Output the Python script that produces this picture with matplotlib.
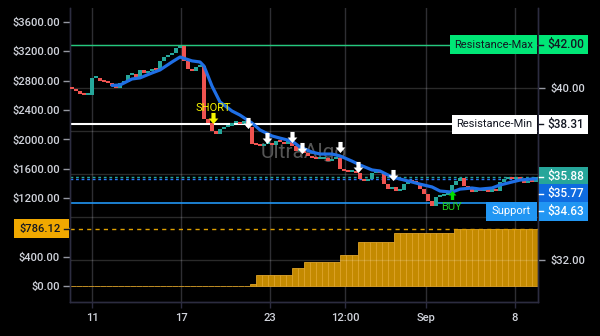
import numpy as np
import matplotlib
matplotlib.use("Agg")
import matplotlib.pyplot as plt
from matplotlib.patches import Rectangle
from matplotlib.lines import Line2D
from matplotlib.path import Path
from matplotlib.transforms import IdentityTransform

plt.rcParams['font.family'] = ['Roboto', 'DejaVu Sans']

# ---------------- data ----------------
closes = [40.00, 39.91, 39.77, 39.72, 39.72, 40.51, 40.51, 40.37, 40.33, 40.28,
          40.14, 40.05, 40.28, 40.33, 40.65, 40.70, 40.56, 40.88, 40.74, 40.84,
          40.93, 40.88, 41.30, 41.49, 41.58, 41.67, 41.91, 42.00, 41.30, 40.93,
          40.84, 41.02, 41.07, 38.60, 38.42, 38.05, 37.91, 38.14, 38.23, 38.28,
          38.42, 38.47, 38.37, 38.51, 38.23, 37.44, 37.40, 37.35, 37.44, 37.49,
          37.40, 37.58, 37.53, 37.44, 37.58, 37.35, 37.12, 37.21, 37.02, 36.88,
          36.79, 36.74, 36.74, 36.79, 36.65, 36.74, 36.79, 36.28, 36.19, 36.14,
          36.19, 36.09, 35.81, 35.72, 35.81, 36.09, 36.14, 36.09, 35.58, 35.35,
          35.44, 35.26, 35.30, 35.58, 35.72, 35.67, 35.63, 35.35, 35.12, 34.79,
          34.56, 34.98, 35.02, 35.07, 35.16, 35.53, 35.72, 35.86, 35.49, 35.35,
          35.21, 35.30, 35.26, 35.35, 35.21, 35.35, 35.26, 35.67, 35.81, 35.86,
          35.81, 35.91, 35.77, 35.63, 35.72, 35.67, 35.88]
first_open = 40.10

ma_idx = [10, 12, 15, 17, 20, 22, 25, 27, 30, 32, 33, 35, 37, 40, 42, 45, 47,
          50, 52, 55, 57, 60, 62, 65, 67, 70, 72, 75, 77, 80, 82, 85, 87, 90,
          92, 95, 97, 100, 102, 105, 107, 110, 112, 115, 116]
ma_vals = [40.12, 40.14, 40.42, 40.47, 40.70, 40.84, 41.21, 41.44, 41.26, 41.21,
           41.02, 40.09, 39.35, 38.93, 38.74, 38.37, 38.05, 37.77, 37.67, 37.53,
           37.26, 37.02, 36.93, 36.93, 36.84, 36.60, 36.42, 36.19, 36.14, 35.86,
           35.77, 35.63, 35.53, 35.40, 35.21, 35.16, 35.30, 35.35, 35.30, 35.35,
           35.49, 35.63, 35.72, 35.77, 35.77]

equity = [8] * 30 + [31] + [154] * 6 + [250] * 2 + [336] * 6 + [427] * 3 + \
         [605] * 6 + [727] * 10 + [786.12] * 14

sell_idx = [44, 48.75, 55, 57.5, 67, 71.5, 80.25]
sell_price = [38.37, 37.67, 37.72, 37.21, 37.26, 36.33, 35.95]
short_idx, short_price, short_text_price = 35.25, 38.60, 39.07
buy_idx, buy_price, buy_text_price = 95, 35.02, 34.47

xtick_pos = [5, 27.25, 49.5, 68.25, 88.5, 110.75]
xtick_labels = ['11', '17', '23', '12:00', 'Sep', '8']
left_ticks = [0, 400, 800, 1200, 1600, 2000, 2400, 2800, 3200, 3600]
right_ticks = [32, 34, 36, 38, 40, 42]
right_visible = [32, 40]   # the others sit under the price tags

res_max = 42.00
res_min = 38.31
last_price = 35.88
ma_last = 35.77
support = 34.63
equity_last = 786.12

# ---------------- style ----------------
BG = '#000000'
GRID = '#2e2e33'
SPINE = '#2c2c40'
TXT = '#d1d4dc'
UP = '#26a69a'
DN = '#ef5350'
BLUE = '#1f6fe5'

W, H = 600, 336
L, R, B, T = 69.5, 538, 302, 8  # pixel frame (top-origin y)

fig = plt.figure(figsize=(W / 100, H / 100), dpi=100, facecolor=BG)
ax = fig.add_axes([L / W, (H - B) / H, (R - L) / W, (B - T) / H])
ax.set_facecolor(BG)
ax2 = ax.twinx()
ax2.patch.set_visible(False)

xlim = (-0.625, 116.5)
ax.set_xlim(*xlim)
ax.set_ylim(-214, 3790)
ax2.set_ylim(30.05, 43.72)

# equity bars (left axis)
eq_x = np.arange(len(equity)) * 1.5 + 0.25
ax.bar(eq_x, equity, width=1.5, color='#c48a00', edgecolor='#dfa42a',
       linewidth=0.6, zorder=2)
ax.axhline(equity_last, color='#e0a000', lw=1, ls=(0, (3, 3)), zorder=3)

ax.set_xticks(xtick_pos)
ax.set_xticklabels(xtick_labels)
ax.set_yticks(left_ticks)
ax.set_yticklabels([f'${v:.2f}' for v in left_ticks])
ax.set_axisbelow(True)
ax.grid(axis='x', color=GRID, lw=1)
ax.tick_params(axis='x', colors=TXT, color=SPINE, length=4, width=1,
               labelsize=8, pad=4)
ax.tick_params(axis='y', colors=TXT, color='#9598a1', length=5, width=1,
               labelsize=8, pad=2)

# price (right axis)
ax2.set_yticks(right_ticks)
ax2.set_yticklabels([f'${v:.2f}' if v in right_visible else '' for v in right_ticks])
ax2.set_axisbelow(True)
ax2.grid(axis='y', color='white', alpha=0.17, lw=1)
ax2.tick_params(axis='y', colors=TXT, color='#9598a1', length=5, width=1,
                labelsize=8, pad=4)

for a in (ax, ax2):
    a.spines['top'].set_visible(False)
    for s in ('left', 'right', 'bottom'):
        a.spines[s].set_color(SPINE)
        a.spines[s].set_linewidth(1)
for lab in ax.get_yticklabels() + ax2.get_yticklabels() + ax.get_xticklabels():
    lab.set_fontweight('medium')

c = np.array(closes)
o = np.r_[first_open, c[:-1]]
idx = np.arange(len(c))
cols = np.where(c >= o, UP, DN)
ax2.bar(idx, np.maximum(np.abs(c - o), 0.09), bottom=np.minimum(o, c) - 0.03,
        width=0.8, color=cols, linewidth=0, zorder=3)

ax2.plot(ma_idx, ma_vals, color=BLUE, lw=2.3, zorder=4, solid_capstyle='round',
         solid_joinstyle='round')

def frac(px):
    return (px - L) / (R - L)

ax2.axhline(res_max, xmin=0, xmax=frac(450), color='#24c87e', lw=1, zorder=2)
ax2.axhline(res_min, xmin=0, xmax=frac(452), color='white', lw=1.5, zorder=2)
ax2.axhline(last_price, color=UP, lw=1, ls=(0, (2, 2)), zorder=2)
ax2.axhline(ma_last, color='#2979ff', lw=1, ls=(0, (2, 2)), zorder=2)
ax2.axhline(support, xmin=0, xmax=frac(486), color='#2196f3', lw=1.2, zorder=2)

# watermark
ax2.text(0.5, 0.51, 'UltraAlgo', transform=ax2.transAxes, ha='center',
         va='center', fontsize=15, color='#555555', zorder=1)

# arrows
dv = [(-0.3, 0.8), (0.3, 0.8), (0.3, 0.0), (0.7, 0.0), (0.0, -0.8),
      (-0.7, 0.0), (-0.3, 0.0), (-0.3, 0.8)]
codes = [Path.MOVETO] + [Path.LINETO] * 6 + [Path.CLOSEPOLY]
down_arrow = Path(dv, codes)
up_arrow = Path([(x, -y) for x, y in dv], codes)

ax2.plot(sell_idx, sell_price, ls='none', marker=down_arrow, markersize=8,
         color='white', markeredgewidth=0, zorder=6)
ax2.plot([short_idx], [short_price], ls='none', marker=down_arrow, markersize=8,
         color='#f5f500', markeredgewidth=0, zorder=6)
ax2.text(short_idx, short_text_price, 'SHORT', color='#f5f500', ha='center',
         va='center', fontsize=8, zorder=6)
ax2.plot([buy_idx], [buy_price], ls='none', marker=up_arrow, markersize=6.5,
         color='#00e000', markeredgewidth=0, zorder=6)
ax2.text(buy_idx, buy_text_price, 'BUY', color='#22d022', ha='center',
         va='center', fontsize=8, zorder=6)

# ---------------- label boxes (display pixel coords) ----------------
ID = IdentityTransform()

def disp_y(a, v):
    return a.transData.transform((0, v))[1]

def box(x0, x1, yc, color, zo=20):
    fig.add_artist(Rectangle((x0, yc - 9.5), x1 - x0, 19, transform=ID,
                             facecolor=color, edgecolor='none', zorder=zo,
                             clip_on=False))

def right_label(value, yc, color, tcolor):
    box(538.5, 588, yc, color)
    fig.add_artist(Line2D([539, 543], [yc, yc], transform=ID, color=tcolor,
                          lw=1, zorder=21))
    fig.text(547, yc, f'${value:.2f}', transform=ID, color=tcolor,
             fontsize=8.5, ha='left', va='center', zorder=22,
             fontweight='medium')

def left_tag(text, x0, x1, yc, color, tcolor):
    box(x0, x1, yc, color)
    fig.text((x0 + x1) / 2, yc, text, transform=ID, color=tcolor,
             fontsize=8, ha='center', va='center', zorder=22)

DARK = '#131722'
y = disp_y(ax2, res_max)
left_tag('Resistance-Max', 450, 537, y, '#00e676', DARK)
right_label(res_max, y, '#00e676', DARK)

y = disp_y(ax2, res_min)
left_tag('Resistance-Min', 452, 537, y, 'white', DARK)
right_label(res_min, y, 'white', DARK)

y = disp_y(ax2, last_price)
right_label(last_price, y, UP, 'white')

y = disp_y(ax2, ma_last) - 15
right_label(ma_last, y, '#0f6be0', 'white')

y = disp_y(ax2, support) - 8
left_tag('Support', 486, 537, y, '#2196f3', 'white')
right_label(support, y, '#2196f3', 'white')

y = disp_y(ax, equity_last)
box(14, 69, y, '#f0a800')
fig.add_artist(Line2D([64, 69], [y, y], transform=ID, color=DARK, lw=1, zorder=21))
fig.text(61, y, f'${equity_last:.2f}', transform=ID, color=DARK, fontsize=8,
         ha='right', va='center', zorder=22, fontweight='medium')

fig.savefig('out.png', dpi=100, facecolor=BG)
